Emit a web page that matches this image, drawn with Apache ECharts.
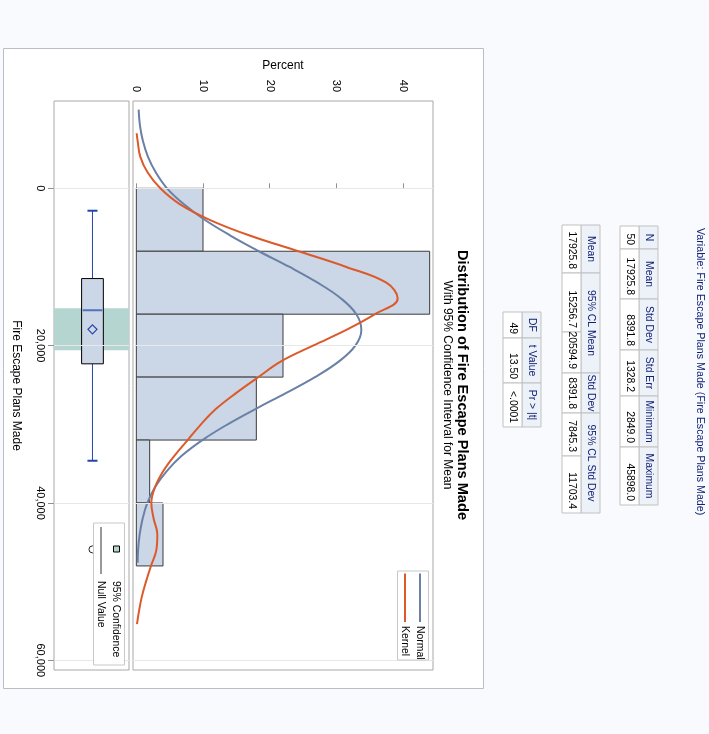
<!DOCTYPE html>
<html>
<head>
<meta charset="utf-8">
<script src="https://cdn.jsdelivr.net/npm/echarts@6/dist/echarts.min.js"></script>
<style>
  html, body { margin: 0; padding: 0; background: #f9fafe; }
  #hist { width: 709px; height: 734px; }
</style>
</head>
<body>
<div id="hist"></div>
<script>
// histogram bins (value range) and percent per bin
var binLo = [0, 8000, 16000, 24000, 32000, 40000];
var binHi = [8000, 16000, 24000, 32000, 40000, 48000];
var binPct = [10, 44, 22, 18, 2, 4];

// fitted normal curve
var normalAt = [-10000, -8000, -6000, -4000, -2000, 0, 2000, 4000, 6000, 8000, 10000, 12000, 14000, 16000,
  18000, 20000, 22000, 24000, 26000, 28000, 30000, 32000, 34000, 36000, 38000, 40000, 42000, 44000, 46000, 47600];
var normalPct = [0.35, 0.54, 0.99, 1.75, 2.93, 4.6, 7.1, 10.25, 14.1, 18.4, 23, 27.2, 30.7, 33, 33.75, 32.85, 30.4,
  26.8, 22.5, 18, 13.7, 9.9, 6.8, 4.5, 2.8, 1.65, 0.94, 0.5, 0.26, 0.2];

// kernel density curve
var kernelAt = [-7000, -6000, -4000, -2000, 0, 2000, 4000, 6000, 8000, 10000, 12000, 14000, 16000, 18000, 20000,
  22000, 24000, 26000, 28000, 30000, 32000, 34000, 36000, 38000, 40000, 42000, 44000, 46000, 48000, 50000, 52000, 54000, 55400];
var kernelPct = [0.05, 0.2, 0.6, 1.7, 3.6, 6.5, 11, 17, 24.3, 31.5, 37.5, 39.2, 35.8, 31.5, 26.5, 21.7, 18.3, 15, 12,
  9.7, 7.7, 5.7, 4, 2.8, 2.25, 2.6, 3.15, 3.0, 2.2, 1.45, 0.8, 0.35, 0.1];

// box plot: whisker low, q1, median, q3, whisker high
var boxStats = [2849, 11470, 15500, 22310, 34630];
var meanVal = 17925.8;
var outliers = [45898];
var ciMean = [15256.7, 20594.9];

var valueTicks = [0, 20000, 40000, 60000];
var pctTicks = [0, 10, 20, 30, 40];

// tables
var basicHead = ['N', 'Mean', 'Std Dev', 'Std Err', 'Minimum', 'Maximum'];
var basicVals = ['50', '17925.8', '8391.8', '1328.2', '2849.0', '45898.0'];
var ciHead = ['Mean', '95% CL Mean', 'Std Dev', '95% CL Std Dev'];
var ciVals = ['17925.8', '15256.7', '20594.9', '8391.8', '7845.3', '11703.4'];
var testHead = ['DF', 't Value', 'Pr > |t|'];
var testVals = ['49', '13.50', '<.0001'];

var FONT = '"Liberation Sans", Arial, sans-serif';
var ROT = -Math.PI / 2;
var vMin = -11100, vMax = 61230;

function rtext(x, y, str, opt) {
  opt = opt || {};
  return {
    type: 'text', x: x, y: y, rotation: ROT, z: 100,
    style: {
      text: str, fill: opt.color || '#000', font: (opt.weight || 'normal') + ' ' + (opt.size || 10) + 'px ' + FONT,
      align: opt.align || 'center', verticalAlign: 'middle'
    }
  };
}

function cellRect(x, y, w, h, fill) {
  return { type: 'rect', z: 99, shape: { x: x, y: y, width: w, height: h },
    style: { fill: fill, stroke: '#c1c1c1', lineWidth: 1 } };
}

// a rotated table: header column on the right, data column on the left
function table(xData, xHead, colW, headEdges, dataEdges, heads, vals) {
  var out = [];
  for (var i = 0; i < heads.length; i++) {
    var y0 = headEdges[i], y1 = headEdges[i + 1];
    out.push(cellRect(xHead, y0, colW, y1 - y0, '#edf2f9'));
    out.push(rtext(xHead + colW / 2, (y0 + y1) / 2, heads[i], { color: '#112277', size: 10.4 }));
  }
  for (var j = 0; j < vals.length; j++) {
    var d0 = dataEdges[j], d1 = dataEdges[j + 1];
    out.push(cellRect(xData, d0, colW, d1 - d0, '#ffffff'));
    out.push(rtext(xData + colW / 2, d1 - 4, vals[j], { align: 'right', size: 10.4 }));
  }
  return out;
}

var graphics = [
  { type: 'rect', z: -100, shape: { x: 3.5, y: 48.5, width: 480, height: 640 },
    style: { fill: '#ffffff', stroke: '#b9bec6', lineWidth: 1 } },
  rtext(700, 228, 'Variable: Fire Escape Plans Made (Fire Escape Plans Made)', { color: '#112277', align: 'left', size: 10.7 }),
  rtext(462, 385, 'Distribution of Fire Escape Plans Made', { weight: 'bold', size: 14.6 }),
  rtext(447, 385, 'With 95% Confidence Interval for Mean', { size: 12 }),
  // histogram legend
  { type: 'rect', z: 99, shape: { x: 397.5, y: 571, width: 31, height: 89 },
    style: { fill: '#fff', stroke: '#c8c8c8', lineWidth: 1 } },
  { type: 'line', z: 100, shape: { x1: 420, y1: 573.5, x2: 420, y2: 622 }, style: { stroke: '#6a80a6', lineWidth: 2 } },
  { type: 'line', z: 100, shape: { x1: 405, y1: 573.5, x2: 405, y2: 622 }, style: { stroke: '#dc5a2a', lineWidth: 2 } },
  rtext(420, 626, 'Normal', { align: 'left', size: 10.4 }),
  rtext(405, 626, 'Kernel', { align: 'left', size: 10.4 }),
  // box panel legend
  { type: 'rect', z: 99, shape: { x: 93.5, y: 523, width: 31, height: 142 },
    style: { fill: '#fff', stroke: '#c8c8c8', lineWidth: 1 } },
  { type: 'rect', z: 100, shape: { x: 113.5, y: 546, width: 6, height: 6 },
    style: { fill: '#b5d6d0', stroke: '#000', lineWidth: 1 } },
  { type: 'line', z: 100, shape: { x1: 101, y1: 527, x2: 101, y2: 574 }, style: { stroke: '#333', lineWidth: 1 } },
  rtext(116, 581, '95% Confidence', { align: 'left', size: 10.4 }),
  rtext(101, 581, 'Null Value', { align: 'left', size: 10.4 })
];
graphics = graphics.concat(
  table(620, 639, 19, [226, 249, 299, 350, 396, 447, 505], [226, 249, 299, 350, 396, 447, 505], basicHead, basicVals),
  table(562, 581, 19, [225, 273, 373, 413, 513], [225, 273, 332, 373, 413, 456, 513], ciHead, ciVals),
  table(503, 522, 19, [312, 338, 383, 427], [312, 338, 383, 427], testHead, testVals)
);

var gridLines = {
  silent: true, symbol: 'none', label: { show: false },
  lineStyle: { color: '#e8e8e8', type: 'solid', width: 1 },
  data: valueTicks.map(function (v) { return { yAxis: v }; })
};

function fmt(v) { return v.toLocaleString('en-US'); }

var option = {
  backgroundColor: '#f9fafe',
  animation: false,
  textStyle: { fontFamily: FONT },
  grid: [
    { left: 54, top: 101, width: 75, height: 569, show: true, backgroundColor: '#fff', borderColor: '#a8a8a8', borderWidth: 1 },
    { left: 133, top: 101, width: 300, height: 569, show: true, backgroundColor: '#fff', borderColor: '#a8a8a8', borderWidth: 1 }
  ],
  xAxis: [
    { gridIndex: 0, type: 'value', min: 0, max: 1, show: false },
    {
      gridIndex: 1, type: 'value', position: 'top', min: -0.5, max: 44.5,
      name: 'Percent', nameLocation: 'middle', nameGap: 28,
      nameTextStyle: { fontSize: 12, color: '#000' },
      axisLine: { show: false },
      axisTick: { show: true, length: 5, customValues: pctTicks, lineStyle: { color: '#909090' } },
      axisLabel: { customValues: pctTicks, rotate: -90, fontSize: 11, color: '#000', margin: 9 },
      splitLine: { show: false }
    }
  ],
  yAxis: [
    {
      gridIndex: 0, type: 'value', inverse: true, min: vMin, max: vMax,
      name: 'Fire Escape Plans Made', nameLocation: 'middle', nameRotate: -90, nameGap: 32,
      nameTextStyle: { fontSize: 12, color: '#000' },
      axisLine: { show: false },
      axisTick: { show: true, length: 6, customValues: valueTicks, lineStyle: { color: '#909090' } },
      axisLabel: { customValues: valueTicks, rotate: -90, fontSize: 11, color: '#000', margin: 8, formatter: fmt },
      splitLine: { show: false }
    },
    {
      gridIndex: 1, type: 'value', inverse: true, min: vMin, max: vMax,
      axisLine: { show: false }, axisTick: { show: false }, axisLabel: { show: false }, splitLine: { show: false }
    }
  ],
  series: [
    {
      type: 'custom', xAxisIndex: 1, yAxisIndex: 1, z: 3,
      data: binLo.map(function (lo, i) { return [lo, binHi[i], binPct[i]]; }),
      encode: { x: 2, y: [0, 1] },
      renderItem: function (params, api) {
        var a = api.coord([0, api.value(0)]);
        var b = api.coord([api.value(2), api.value(1)]);
        return {
          type: 'rect',
          shape: { x: a[0], y: a[1], width: b[0] - a[0], height: b[1] - a[1] },
          style: { fill: '#cbd6e6', stroke: '#3c3c3c', lineWidth: 1 }
        };
      },
      markLine: gridLines
    },
    {
      name: 'Normal', type: 'line', xAxisIndex: 1, yAxisIndex: 1, z: 4,
      data: normalAt.map(function (v, i) { return [normalPct[i], v]; }),
      smooth: 0.4, showSymbol: false, symbol: 'none',
      lineStyle: { color: '#6a80a6', width: 2 }
    },
    {
      name: 'Kernel', type: 'line', xAxisIndex: 1, yAxisIndex: 1, z: 5,
      data: kernelAt.map(function (v, i) { return [kernelPct[i], v]; }),
      smooth: 0.4, showSymbol: false, symbol: 'none',
      lineStyle: { color: '#dc5a2a', width: 2 }
    },
    {
      type: 'custom', xAxisIndex: 0, yAxisIndex: 0, z: 3,
      data: [[0.513]],
      encode: { x: 0 },
      renderItem: function (params, api) {
        var cx = api.value(0);
        var band0 = api.coord([0, ciMean[0]]), band1 = api.coord([1, ciMean[1]]);
        var q1 = api.coord([cx - 0.145, boxStats[1]]), q3 = api.coord([cx + 0.145, boxStats[3]]);
        var med0 = api.coord([cx - 0.145, boxStats[2]]), med1 = api.coord([cx + 0.145, boxStats[2]]);
        var lo = api.coord([cx, boxStats[0]]), hi = api.coord([cx, boxStats[4]]);
        var capL = api.coord([cx - 0.067, 0])[0], capR = api.coord([cx + 0.067, 0])[0];
        var m = api.coord([cx, meanVal]);
        var kids = [
          { type: 'rect', shape: { x: band0[0], y: band0[1], width: band1[0] - band0[0], height: band1[1] - band0[1] },
            style: { fill: '#b5d6d0' } },
          { type: 'line', shape: { x1: lo[0], y1: lo[1], x2: lo[0], y2: q1[1] }, style: { stroke: '#2346a8', lineWidth: 1 } },
          { type: 'line', shape: { x1: hi[0], y1: q3[1], x2: hi[0], y2: hi[1] }, style: { stroke: '#2346a8', lineWidth: 1 } },
          { type: 'line', shape: { x1: capL, y1: lo[1], x2: capR, y2: lo[1] }, style: { stroke: '#2346a8', lineWidth: 2 } },
          { type: 'line', shape: { x1: capL, y1: hi[1], x2: capR, y2: hi[1] }, style: { stroke: '#2346a8', lineWidth: 2 } },
          { type: 'rect', shape: { x: q1[0], y: q1[1], width: q3[0] - q1[0], height: q3[1] - q1[1] },
            style: { fill: '#cbd6e6', stroke: '#000', lineWidth: 1 } },
          { type: 'line', shape: { x1: med0[0] + 1, y1: med0[1], x2: med1[0] - 1, y2: med1[1] }, style: { stroke: '#4f73c2', lineWidth: 2 } },
          { type: 'polygon', shape: { points: [[m[0], m[1] - 4.5], [m[0] + 4.5, m[1]], [m[0], m[1] + 4.5], [m[0] - 4.5, m[1]]] },
            style: { fill: 'none', stroke: '#2346a8', lineWidth: 1.2 } }
        ];
        outliers.forEach(function (o) {
          var p = api.coord([cx, o]);
          kids.push({ type: 'circle', shape: { cx: p[0], cy: p[1], r: 3.5 }, style: { fill: 'none', stroke: '#222', lineWidth: 1 } });
        });
        return { type: 'group', children: kids };
      },
      markLine: gridLines
    }
  ],
  graphic: graphics
};

var chart = echarts.init(document.getElementById('hist'));
chart.setOption(option);
</script>
</body>
</html>
